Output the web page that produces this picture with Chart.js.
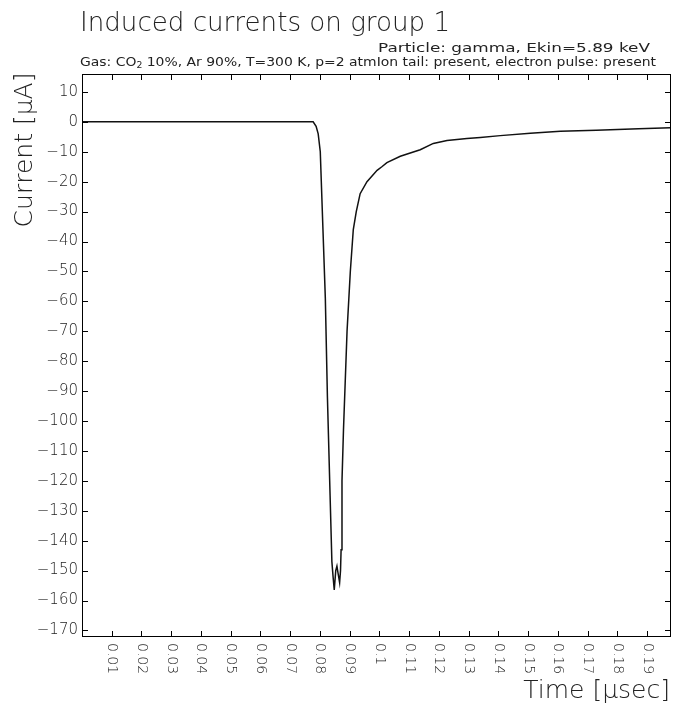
<!DOCTYPE html>
<html lang="en">
<head>
    <meta charset="UTF-8">
    <title>Induced currents on group 1</title>
    <script src="https://cdn.jsdelivr.net/npm/chart.js@4.4.1/dist/chart.umd.min.js"></script>
    <style>
        body {
            margin: 0;
            background: #ffffff;
        }
        canvas {
            display: block;
        }
    </style>
</head>
<body>
    <canvas id="currentChart" width="673" height="705"></canvas>

    <script>
        // Pulse shape: time in microseconds, current in microamps
        const times = [0, 0.0777, 0.0787, 0.0794, 0.0801, 0.0810, 0.0818, 0.0825, 0.0834, 0.0840,
            0.0844, 0.0848, 0.0853, 0.0857, 0.0861, 0.0866, 0.0869, 0.0871, 0.0874, 0.0879,
            0.0891, 0.0902, 0.0912, 0.0922, 0.0935, 0.0958, 0.0992, 0.1008, 0.1025, 0.1070,
            0.1137, 0.1181, 0.1227, 0.1294, 0.1339, 0.1406, 0.1507, 0.1608, 0.1729, 0.1871, 0.1978];
        const currents = [0, 0, -1.5, -4, -10, -36, -59, -92, -125, -147,
            -152, -156.5, -150, -148.5, -151, -154, -150, -143, -120, -103,
            -70, -50, -36, -30, -24, -20, -16.2, -15, -13.6, -11.5,
            -9.3, -7.2, -6.2, -5.6, -5.2, -4.6, -3.8, -3.1, -2.8, -2.3, -2.0];

        const xTicks = [0.01, 0.02, 0.03, 0.04, 0.05, 0.06, 0.07, 0.08, 0.09, 0.1,
            0.11, 0.12, 0.13, 0.14, 0.15, 0.16, 0.17, 0.18, 0.19];
        const yTicks = [10, 0, -10, -20, -30, -40, -50, -60, -70, -80, -90, -100,
            -110, -120, -130, -140, -150, -160, -170];

        const titleText = 'Induced currents on group 1';
        const particleText = 'Particle: gamma, Ekin=5.89 keV';
        const gasText = ['Gas: CO', '2', ' 10%, Ar 90%, T=300 K, p=2 atmIon tail: present, electron pulse: present'];
        const yTitle = 'Current [\u03bcA]';
        const xTitle = 'Time [\u03bcsec]';

        const points = times.map((t, i) => ({ x: t, y: currents[i] }));

        const fontFamily = '"DejaVu Sans", "Liberation Sans", sans-serif';

        // draw text stretched sideways to fill a given width
        function fitText(ctx, text, x, y, width) {
            const w = ctx.measureText(text).width;
            ctx.save();
            ctx.translate(x, y);
            ctx.scale(width / w, 1);
            ctx.fillText(text, 0, 0);
            ctx.restore();
        }

        // frame, inward ticks and all texts, drawn by hand
        const framePlugin = {
            id: 'frame',
            afterDraw(chart) {
                const ctx = chart.ctx;
                const area = chart.chartArea;
                const xs = chart.scales.x;
                const ys = chart.scales.y;
                const tickLen = 6;

                ctx.save();
                ctx.strokeStyle = '#000';
                ctx.lineWidth = 1;
                ctx.strokeRect(area.left + 0.5, area.top + 0.5,
                    area.right - area.left - 1, area.bottom - area.top - 1);

                ctx.beginPath();
                xTicks.forEach(v => {
                    const px = Math.round(xs.getPixelForValue(v)) + 0.5;
                    ctx.moveTo(px, area.bottom);
                    ctx.lineTo(px, area.bottom - tickLen);
                    ctx.moveTo(px, area.top);
                    ctx.lineTo(px, area.top + tickLen);
                });
                yTicks.forEach(v => {
                    const py = Math.round(ys.getPixelForValue(v)) + 0.5;
                    ctx.moveTo(area.left, py);
                    ctx.lineTo(area.left + tickLen, py);
                    ctx.moveTo(area.right, py);
                    ctx.lineTo(area.right - tickLen, py);
                });
                ctx.stroke();

                ctx.fillStyle = '#222';

                // y tick labels
                ctx.font = '300 15px ' + fontFamily;
                ctx.textAlign = 'right';
                ctx.textBaseline = 'middle';
                yTicks.forEach(v => {
                    const label = v < 0 ? '\u2212' + Math.abs(v) : String(v);
                    ctx.fillText(label, area.left - 4, ys.getPixelForValue(v));
                });

                // x tick labels, turned to read downwards
                ctx.font = '300 14px ' + fontFamily;
                ctx.textAlign = 'left';
                ctx.textBaseline = 'middle';
                xTicks.forEach(v => {
                    ctx.save();
                    ctx.translate(xs.getPixelForValue(v), area.bottom + 6);
                    ctx.rotate(Math.PI / 2);
                    ctx.fillText(String(v), 0, 0);
                    ctx.restore();
                });

                // titles
                ctx.font = '300 26px ' + fontFamily;
                ctx.textAlign = 'left';
                ctx.textBaseline = 'alphabetic';
                fitText(ctx, titleText, area.left - 2, 31, 370);

                ctx.font = '300 25px ' + fontFamily;
                ctx.textAlign = 'right';
                ctx.fillText(xTitle, area.right - 1, 698);

                ctx.save();
                ctx.translate(32, 150);
                ctx.rotate(-Math.PI / 2);
                ctx.textAlign = 'center';
                ctx.fillText(yTitle, 0, 0);
                ctx.restore();

                // run description
                ctx.font = '12px ' + fontFamily;
                ctx.textAlign = 'left';
                fitText(ctx, particleText, 378, 52, 272);

                const base = 66;
                const gasWidth = 576;
                const parts = [
                    { t: gasText[0], f: '12px ', dy: 0 },
                    { t: gasText[1], f: '8px ', dy: 2 },
                    { t: gasText[2], f: '12px ', dy: 0 }
                ];
                let natural = 0;
                parts.forEach(p => {
                    ctx.font = p.f + fontFamily;
                    natural += ctx.measureText(p.t).width;
                });
                const k = gasWidth / natural;
                ctx.save();
                ctx.translate(area.left - 2, base);
                ctx.scale(k, 1);
                let x = 0;
                parts.forEach(p => {
                    ctx.font = p.f + fontFamily;
                    ctx.fillText(p.t, x, p.dy);
                    x += ctx.measureText(p.t).width;
                });
                ctx.restore();

                ctx.restore();
            }
        };

        new Chart(document.getElementById('currentChart'), {
            type: 'line',
            data: {
                datasets: [{
                    data: points,
                    borderColor: '#111',
                    borderWidth: 1.5,
                    pointRadius: 0,
                    tension: 0,
                    fill: false
                }]
            },
            options: {
                responsive: false,
                animation: false,
                layout: {
                    padding: { left: 82, top: 74, right: 2, bottom: 68 }
                },
                plugins: {
                    legend: { display: false },
                    tooltip: { enabled: false }
                },
                scales: {
                    x: { type: 'linear', min: 0, max: 0.198, display: false },
                    y: { type: 'linear', min: -172.2, max: 16, display: false }
                }
            },
            plugins: [framePlugin]
        });
    </script>
</body>
</html>
